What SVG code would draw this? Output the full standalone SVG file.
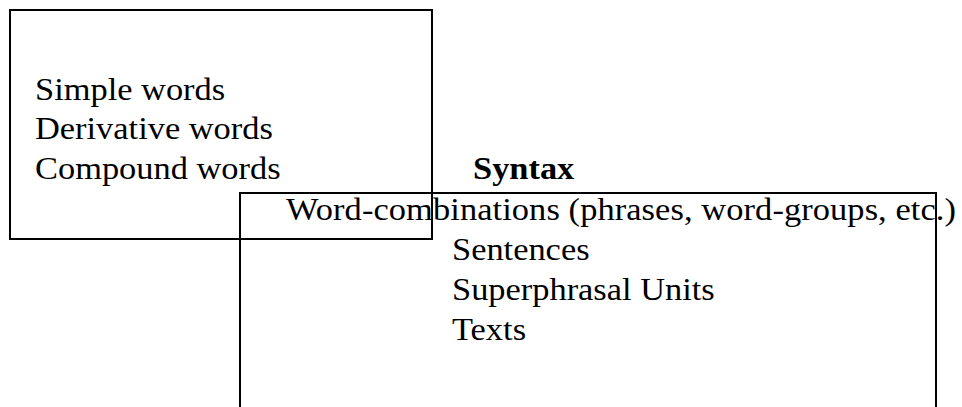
<svg xmlns="http://www.w3.org/2000/svg" width="962" height="407" viewBox="0 0 962 407">
<style>
.box{fill:none;stroke:#000;stroke-width:2}
.t{font-family:"Liberation Serif","Times New Roman",serif;font-size:34.4px;fill:#000}
.b{font-weight:bold}
</style>
<rect width="962" height="407" fill="#fff"/>
<g id="morphology">
<rect class="box" x="10" y="10" width="422" height="229"/>
<text class="t" transform="translate(35,99.5) scale(1,0.92)">Simple words</text>
<text class="t" transform="translate(35,139) scale(1,0.92)">Derivative words</text>
<text class="t" transform="translate(35,178.5) scale(1,0.92)">Compound words</text>
</g>
<g id="syntax">
<rect class="box" x="240" y="193" width="696" height="230"/>
<text class="t b" transform="translate(473,179) scale(1,0.92)">Syntax</text>
<text class="t" transform="translate(286,220) scale(1,0.92)" textLength="670" lengthAdjust="spacing">Word-combinations (phrases, word-groups, etc.)</text>
<text class="t" transform="translate(452,260) scale(1,0.92)">Sentences</text>
<text class="t" transform="translate(452,300) scale(1,0.92)">Superphrasal Units</text>
<text class="t" transform="translate(452,339.5) scale(1,0.92)">Texts</text>
</g>
<g id="connectors"></g>
</svg>
